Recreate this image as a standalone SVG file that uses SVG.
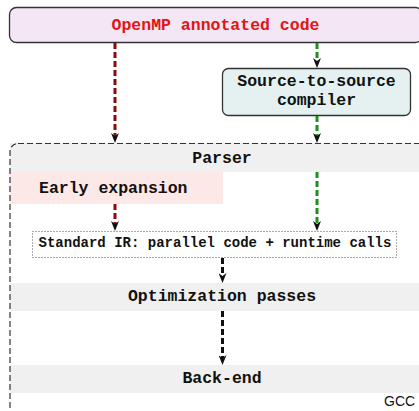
<svg xmlns="http://www.w3.org/2000/svg" width="419" height="411" viewBox="0 0 419 411">
  <style>
    .mono { font-family: "Liberation Mono", "Courier New", monospace; font-weight: bold; fill: #111; }
    .hdr { font-size: 16.5px; }
    .ir { font-size: 14px; }
    .band { fill: #f0f0f0; stroke: none; }
    .flow { fill: none; stroke-width: 3; stroke-dasharray: 6 3; }
    .red { stroke: #8b0a0a; }
    .green { stroke: #1f8f1f; }
    .black { stroke: #111; }
  </style>
  <defs>
    <marker id="head" viewBox="0 0 10 8" refX="4" refY="4" markerWidth="10" markerHeight="8" markerUnits="userSpaceOnUse" orient="auto">
      <path d="M0,0 L10,4 L0,8 L3,4 z" fill="#111"/>
    </marker>
  </defs>

  <!-- GCC stages -->
  <g id="parser">
    <rect class="band" x="10" y="143" width="420" height="29"/>
    <text class="mono hdr" x="222" y="163" text-anchor="middle">Parser</text>
  </g>
  <g id="early-expansion">
    <rect x="10" y="172" width="213" height="32" fill="#fde8e8"/>
    <text class="mono hdr" x="39" y="193">Early expansion</text>
  </g>
  <g id="standard-ir">
    <rect x="32.5" y="231.5" width="364" height="26" fill="none" stroke="#555" stroke-width="1" stroke-dasharray="1 2"/>
    <text class="mono ir" x="215" y="247" text-anchor="middle">Standard IR: parallel code + runtime calls</text>
  </g>
  <g id="optimization">
    <rect class="band" x="10" y="283" width="420" height="28"/>
    <text class="mono hdr" x="222" y="301" text-anchor="middle">Optimization passes</text>
  </g>
  <g id="back-end">
    <rect class="band" x="10" y="365" width="420" height="28"/>
    <text class="mono hdr" x="222" y="383" text-anchor="middle">Back-end</text>
  </g>

  <!-- GCC container -->
  <g id="gcc">
    <rect x="10" y="143.5" width="420" height="275" rx="8" fill="none" stroke="#333" stroke-width="1.2" stroke-dasharray="6 3"/>
    <text x="384" y="406" font-family="Liberation Sans, Arial, sans-serif" font-size="14" fill="#111">GCC</text>
  </g>

  <!-- input code -->
  <g id="openmp-code">
    <rect x="9.5" y="7.5" width="413" height="35" rx="7" fill="#f4e6f4" stroke="#333" stroke-width="1.3"/>
    <text class="mono hdr" x="215.5" y="30" text-anchor="middle" style="fill:#e31414">OpenMP annotated code</text>
  </g>

  <g id="source-to-source">
    <rect x="222.5" y="68.5" width="188" height="47" rx="6" fill="#e5f1f1" stroke="#333" stroke-width="1.3"/>
    <text class="mono hdr" x="316.5" y="86" text-anchor="middle">Source-to-source</text>
    <text class="mono hdr" x="316.5" y="105" text-anchor="middle">compiler</text>
  </g>

  <!-- connectors -->
  <g id="connectors">
    <line class="flow red" x1="115" y1="43" x2="115" y2="137" marker-end="url(#head)"/>
    <line class="flow green" x1="317" y1="43" x2="317" y2="62" marker-end="url(#head)"/>
    <line class="flow green" x1="317" y1="116" x2="317" y2="137" marker-end="url(#head)"/>
    <line class="flow red" x1="115" y1="204" x2="115" y2="225" marker-end="url(#head)"/>
    <line class="flow green" x1="317" y1="172" x2="317" y2="225" marker-end="url(#head)"/>
    <line class="flow black" x1="222.5" y1="258" x2="222.5" y2="277" marker-end="url(#head)"/>
    <line class="flow black" x1="222.5" y1="311" x2="222.5" y2="359" marker-end="url(#head)"/>
  </g>
</svg>
